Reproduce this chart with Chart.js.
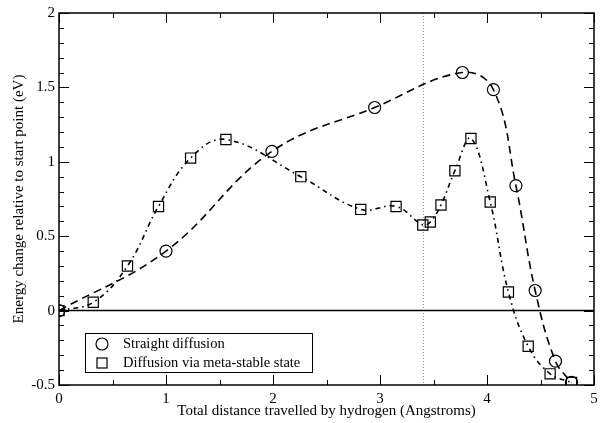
<!DOCTYPE html>
<html lang="en">
<head>
    <meta charset="UTF-8">
    <title>Energy change along diffusion path</title>
    <script src="https://cdn.jsdelivr.net/npm/chart.js"></script>
    <style>
        html, body { margin: 0; padding: 0; background: #fff; }
    </style>
</head>
<body>
<canvas id="myChart" width="607" height="423"></canvas>
<script>
// values
var straightX = [0, 1.0, 1.99, 2.95, 3.77, 4.06, 4.27, 4.45, 4.64, 4.79];
var straightY = [0, 0.40, 1.07, 1.365, 1.60, 1.485, 0.84, 0.135, -0.34, -0.483];

var metaX = [0, 0.32, 0.64, 0.93, 1.23, 1.56, 2.26, 2.82, 3.15, 3.40, 3.47, 3.57, 3.70, 3.85, 4.03, 4.20, 4.385, 4.59, 4.79];
var metaY = [0, 0.056, 0.30, 0.70, 1.025, 1.15, 0.90, 0.68, 0.70, 0.575, 0.595, 0.71, 0.94, 1.157, 0.73, 0.125, -0.24, -0.425, -0.483];

var seriesNames = ['Straight diffusion', 'Diffusion via meta-stable state'];

var xTicks = [0, 1, 2, 3, 4, 5];
var xTickLabels = ['0', '1', '2', '3', '4', '5'];
var xMinorTicks = [0.5, 1.5, 2.5, 3.5, 4.5];
var yTicks = [-0.5, 0, 0.5, 1, 1.5, 2];
var yTickLabels = ['-0.5', '0', '0.5', '1', '1.5', '2'];
var yMinorTicks = [-0.4, -0.3, -0.2, -0.1, 0.1, 0.2, 0.3, 0.4, 0.6, 0.7, 0.8, 0.9,
                   1.1, 1.2, 1.3, 1.4, 1.6, 1.7, 1.8, 1.9];

var zeroLineY = 0;
var markerLineX = 3.4;

var serif = 'Liberation Serif, Times New Roman, serif';

function toPoints(xs, ys) {
    var pts = [];
    for (var i = 0; i < xs.length; i++) pts.push({ x: xs[i], y: ys[i] });
    return pts;
}

// reference lines, frame, inward ticks and the boxed legend
var framePlugin = {
    id: 'frame',
    beforeDatasetsDraw: function (chart) {
        var ctx = chart.ctx, a = chart.chartArea;
        var xs = chart.scales.x, ys = chart.scales.y;
        ctx.save();
        // dotted vertical line
        var px = xs.getPixelForValue(markerLineX);
        ctx.strokeStyle = '#808080';
        ctx.lineWidth = 1;
        ctx.setLineDash([1, 2]);
        ctx.beginPath();
        ctx.moveTo(px + 0.5, a.top);
        ctx.lineTo(px + 0.5, a.bottom);
        ctx.stroke();
        // zero line
        ctx.setLineDash([]);
        var py = ys.getPixelForValue(zeroLineY);
        ctx.strokeStyle = '#000';
        ctx.lineWidth = 1.5;
        ctx.beginPath();
        ctx.moveTo(a.left, py);
        ctx.lineTo(a.right, py);
        ctx.stroke();
        ctx.restore();
    },
    afterDraw: function (chart) {
        var ctx = chart.ctx, a = chart.chartArea;
        var xs = chart.scales.x, ys = chart.scales.y;
        ctx.save();
        ctx.strokeStyle = '#000';
        ctx.lineWidth = 1;
        function xTick(v, len) {
            var p = Math.round(xs.getPixelForValue(v)) + 0.5;
            ctx.moveTo(p, a.bottom); ctx.lineTo(p, a.bottom - len);
            ctx.moveTo(p, a.top); ctx.lineTo(p, a.top + len);
        }
        function yTick(v, len) {
            var p = Math.round(ys.getPixelForValue(v)) + 0.5;
            ctx.moveTo(a.left, p); ctx.lineTo(a.left + len, p);
            ctx.moveTo(a.right, p); ctx.lineTo(a.right - len, p);
        }
        ctx.beginPath();
        xTicks.forEach(function (v) { xTick(v, 10); });
        xMinorTicks.forEach(function (v) { xTick(v, 5); });
        yTicks.forEach(function (v) { yTick(v, 10); });
        yMinorTicks.forEach(function (v) { yTick(v, 5); });
        ctx.stroke();

        ctx.lineWidth = 1.5;
        ctx.strokeRect(a.left, a.top, a.right - a.left, a.bottom - a.top);

        // legend box
        var lx = a.left + 26, ly = a.top + 320, lw = 227, lh = 39;
        ctx.fillStyle = '#fff';
        ctx.fillRect(lx, ly, lw, lh);
        ctx.lineWidth = 1;
        ctx.strokeRect(lx + 0.5, ly + 0.5, lw, lh);
        ctx.lineWidth = 1.2;
        ctx.beginPath();
        ctx.arc(lx + 17, ly + 11, 6, 0, Math.PI * 2);
        ctx.stroke();
        ctx.strokeRect(lx + 12, ly + 25, 10, 10);
        ctx.fillStyle = '#000';
        ctx.font = '14.5px ' + serif;
        ctx.textBaseline = 'middle';
        ctx.fillText(seriesNames[0], lx + 38, ly + 11);
        ctx.fillText(seriesNames[1], lx + 38, ly + 30);
        ctx.restore();
    }
};

var ctx = document.getElementById('myChart').getContext('2d');
var myChart = new Chart(ctx, {
    type: 'scatter',
    data: {
        datasets: [
            {
                label: seriesNames[0],
                data: toPoints(straightX, straightY),
                showLine: true,
                tension: 0.4,
                borderColor: '#000',
                borderWidth: 1.6,
                borderDash: [8, 5],
                pointStyle: 'circle',
                pointRadius: 6,
                pointBorderWidth: 1.2,
                pointBorderColor: '#000',
                pointBackgroundColor: 'rgba(0,0,0,0)'
            },
            {
                label: seriesNames[1],
                data: toPoints(metaX, metaY),
                showLine: true,
                tension: 0.4,
                borderColor: '#000',
                borderWidth: 1.6,
                borderDash: [5, 4, 1.5, 4],
                pointStyle: 'rect',
                pointRadius: 7.2,
                pointBorderWidth: 1.2,
                pointBorderColor: '#000',
                pointBackgroundColor: 'rgba(0,0,0,0)'
            }
        ]
    },
    options: {
        responsive: false,
        animation: false,
        layout: { padding: { left: 0, right: 13, top: 13, bottom: 0 } },
        plugins: {
            legend: { display: false },
            tooltip: { enabled: false }
        },
        scales: {
            x: {
                type: 'linear',
                min: 0,
                max: 5,
                afterBuildTicks: function (scale) {
                    scale.ticks = xTicks.map(function (v) { return { value: v }; });
                },
                afterFit: function (scale) { scale.height = 38; },
                grid: { display: false, drawTicks: false },
                border: { display: false },
                ticks: {
                    padding: 5,
                    color: '#000',
                    font: { family: serif, size: 15 },
                    maxRotation: 0,
                    callback: function (v, i) { return xTickLabels[i]; }
                },
                title: {
                    display: true,
                    text: 'Total distance travelled by hydrogen (Angstroms)',
                    color: '#000',
                    font: { family: serif, size: 15 },
                    padding: { top: 0, bottom: 3 }
                }
            },
            y: {
                type: 'linear',
                min: -0.5,
                max: 2,
                afterBuildTicks: function (scale) {
                    scale.ticks = yTicks.map(function (v) { return { value: v }; });
                },
                afterFit: function (scale) { scale.width = 59; },
                grid: { display: false, drawTicks: false },
                border: { display: false },
                ticks: {
                    padding: 4,
                    color: '#000',
                    font: { family: serif, size: 15 },
                    callback: function (v, i) { return yTickLabels[i]; }
                },
                title: {
                    display: true,
                    text: 'Energy change relative to start point (eV)',
                    color: '#000',
                    font: { family: serif, size: 15 },
                    padding: { top: 10, bottom: 0 }
                }
            }
        }
    },
    plugins: [framePlugin]
});
</script>
</body>
</html>
